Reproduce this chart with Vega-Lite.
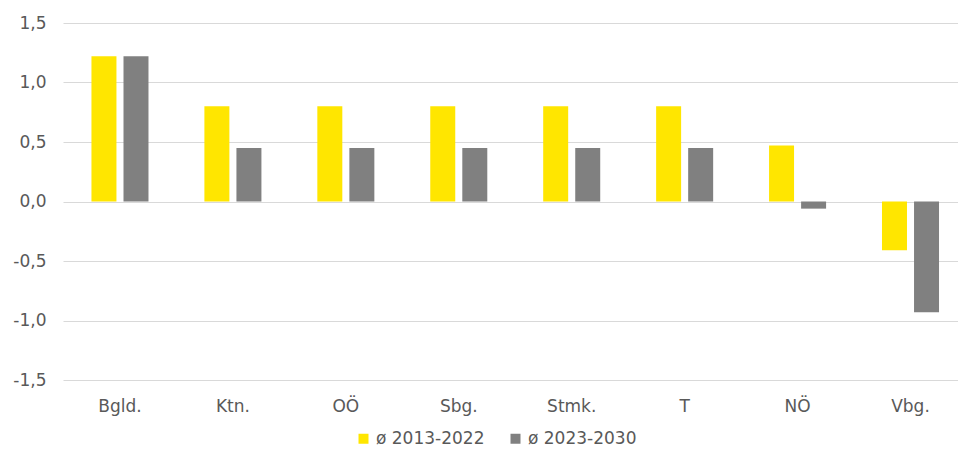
{
  "$schema": "https://vega.github.io/schema/vega-lite/v6.json",
  "width": 895,
  "height": 357,
  "autosize": {"type": "none"},
  "padding": {"left": 63, "top": 23, "right": 0, "bottom": 74},
  "background": "white",
  "data": {
    "values": [
      {"land": "Bgld.", "periode": "ø 2013-2022", "wert": 1.22},
      {"land": "Bgld.", "periode": "ø 2023-2030", "wert": 1.22},
      {"land": "Ktn.", "periode": "ø 2013-2022", "wert": 0.8},
      {"land": "Ktn.", "periode": "ø 2023-2030", "wert": 0.45},
      {"land": "OÖ", "periode": "ø 2013-2022", "wert": 0.8},
      {"land": "OÖ", "periode": "ø 2023-2030", "wert": 0.45},
      {"land": "Sbg.", "periode": "ø 2013-2022", "wert": 0.8},
      {"land": "Sbg.", "periode": "ø 2023-2030", "wert": 0.45},
      {"land": "Stmk.", "periode": "ø 2013-2022", "wert": 0.8},
      {"land": "Stmk.", "periode": "ø 2023-2030", "wert": 0.45},
      {"land": "T", "periode": "ø 2013-2022", "wert": 0.8},
      {"land": "T", "periode": "ø 2023-2030", "wert": 0.45},
      {"land": "NÖ", "periode": "ø 2013-2022", "wert": 0.47},
      {"land": "NÖ", "periode": "ø 2023-2030", "wert": -0.06},
      {"land": "Vbg.", "periode": "ø 2013-2022", "wert": -0.41},
      {"land": "Vbg.", "periode": "ø 2023-2030", "wert": -0.93}
    ]
  },
  "mark": {"type": "bar"},
  "encoding": {
    "x": {
      "field": "land",
      "type": "nominal",
      "sort": null,
      "scale": {"paddingInner": 0.495, "paddingOuter": 0.21, "align": 0.6},
      "axis": {
        "title": null,
        "labelAngle": 0,
        "domain": false,
        "ticks": false,
        "labelPadding": 18,
        "labelFontSize": 17,
        "labelColor": "#595959"
      }
    },
    "xOffset": {
      "field": "periode",
      "type": "nominal",
      "scale": {"paddingInner": 0.22, "paddingOuter": 0}
    },
    "y": {
      "field": "wert",
      "type": "quantitative",
      "scale": {"domain": [-1.5, 1.5], "nice": false, "zero": false},
      "axis": {
        "title": null,
        "values": [-1.5, -1, -0.5, 0, 0.5, 1, 1.5],
        "labelExpr": "replace(replace(format(datum.value, '.1f'), '.', ','), '\u2212', '-')",
        "domain": false,
        "ticks": false,
        "labelPadding": 17,
        "labelFontSize": 17,
        "labelColor": "#595959",
        "gridColor": "#D9D9D9",
        "gridWidth": 1
      }
    },
    "color": {
      "field": "periode",
      "type": "nominal",
      "scale": {"range": ["#FFE600", "#808080"]},
      "legend": {
        "title": null,
        "orient": "none",
        "legendX": 292,
        "legendY": 407,
        "direction": "horizontal",
        "symbolType": "square",
        "symbolSize": 100,
        "symbolStrokeWidth": 0,
        "labelFontSize": 17,
        "labelColor": "#595959",
        "labelOffset": 4,
        "columnPadding": 22
      }
    }
  },
  "config": {
    "font": "DejaVu Sans",
    "view": {"stroke": null}
  }
}
